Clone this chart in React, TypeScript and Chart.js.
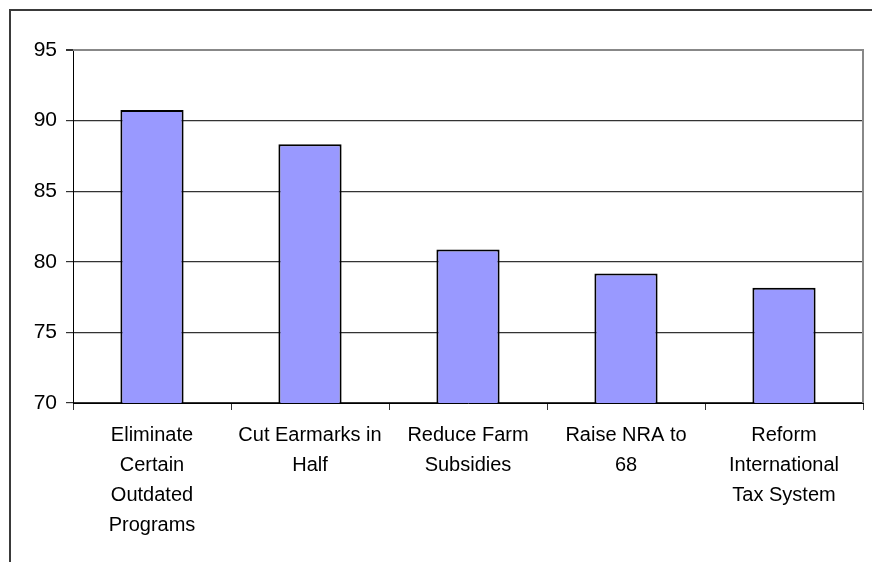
import React, { useEffect, useRef } from "react";
import { Chart, registerables } from "chart.js";

Chart.register(...registerables);

const categories: string[][] = [
  ["Eliminate", "Certain", "Outdated", "Programs"],
  ["Cut Earmarks in", "Half"],
  ["Reduce Farm", "Subsidies"],
  ["Raise NRA to", "68"],
  ["Reform", "International", "Tax System"],
];
const values: number[] = [90.75, 88.33, 80.87, 79.17, 78.16];
const yMin = 70;
const yMax = 95;
const yStep = 5;

const FONT = "'Liberation Sans', Arial, sans-serif";

const framePlugin = {
  id: "frame",
  beforeDraw(chart: any) {
    const ctx = chart.ctx;
    ctx.save();
    ctx.fillStyle = "#ffffff";
    ctx.fillRect(0, 0, chart.width, chart.height);
    ctx.strokeStyle = "#3a3a3a";
    ctx.lineWidth = 2;
    ctx.beginPath();
    ctx.moveTo(10, chart.height);
    ctx.lineTo(10, 10);
    ctx.lineTo(chart.width, 10);
    ctx.stroke();
    ctx.restore();
  },
  afterDraw(chart: any) {
    const ctx = chart.ctx;
    const a = chart.chartArea;
    ctx.save();
    ctx.strokeStyle = "#888888";
    ctx.lineWidth = 2;
    ctx.beginPath();
    ctx.moveTo(a.left, a.top);
    ctx.lineTo(a.right, a.top);
    ctx.lineTo(a.right, a.bottom);
    ctx.stroke();
    ctx.restore();
  },
};

export default function App() {
  const ref = useRef<HTMLCanvasElement | null>(null);
  useEffect(() => {
    document.body.style.margin = "0";
    if (!ref.current) return;
    const chart = new Chart(ref.current, {
      type: "bar",
      data: {
        labels: categories,
        datasets: [
          {
            data: values,
            backgroundColor: "#9999FF",
            borderColor: "#000000",
            borderWidth: 2,
            borderSkipped: false,
            categoryPercentage: 1,
            barPercentage: 0.4,
          },
        ],
      },
      options: {
        responsive: false,
        animation: false,
        devicePixelRatio: 1,
        layout: { padding: { left: 0, top: 50, right: 9, bottom: 0 } },
        plugins: {
          legend: { display: false },
          tooltip: { enabled: false },
        },
        scales: {
          x: {
            offset: true,
            grid: {
              offset: true,
              drawOnChartArea: false,
              drawTicks: true,
              tickLength: 7,
              tickColor: "#333333",
            },
            border: { color: "#000000", width: 1 },
            ticks: {
              color: "#000000",
              font: { family: FONT, size: 20, lineHeight: 1.5 },
              padding: 10,
              maxRotation: 0,
              autoSkip: false,
            },
            afterFit(scale: any) {
              scale.height = 159;
            },
          },
          y: {
            min: yMin,
            max: yMax,
            ticks: {
              stepSize: yStep,
              color: "#000000",
              font: { family: FONT, size: 21 },
              padding: 9,
            },
            grid: {
              color: (c: any) => (c.tick && c.tick.value === yMax ? "#888888" : "#333333"),
              lineWidth: (c: any) => (c.tick && c.tick.value === yMax ? 2 : 1.2),
              tickLength: 7,
              tickColor: "#333333",
            },
            border: { color: "#000000", width: 1 },
            afterFit(scale: any) {
              scale.width = 73;
            },
          },
        },
      },
      plugins: [framePlugin],
    });
    return () => chart.destroy();
  }, []);
  return (
    <div style={{ position: "absolute", left: 0, top: 0, width: 872, height: 562 }}>
      <canvas ref={ref} width={872} height={562} />
    </div>
  );
}
